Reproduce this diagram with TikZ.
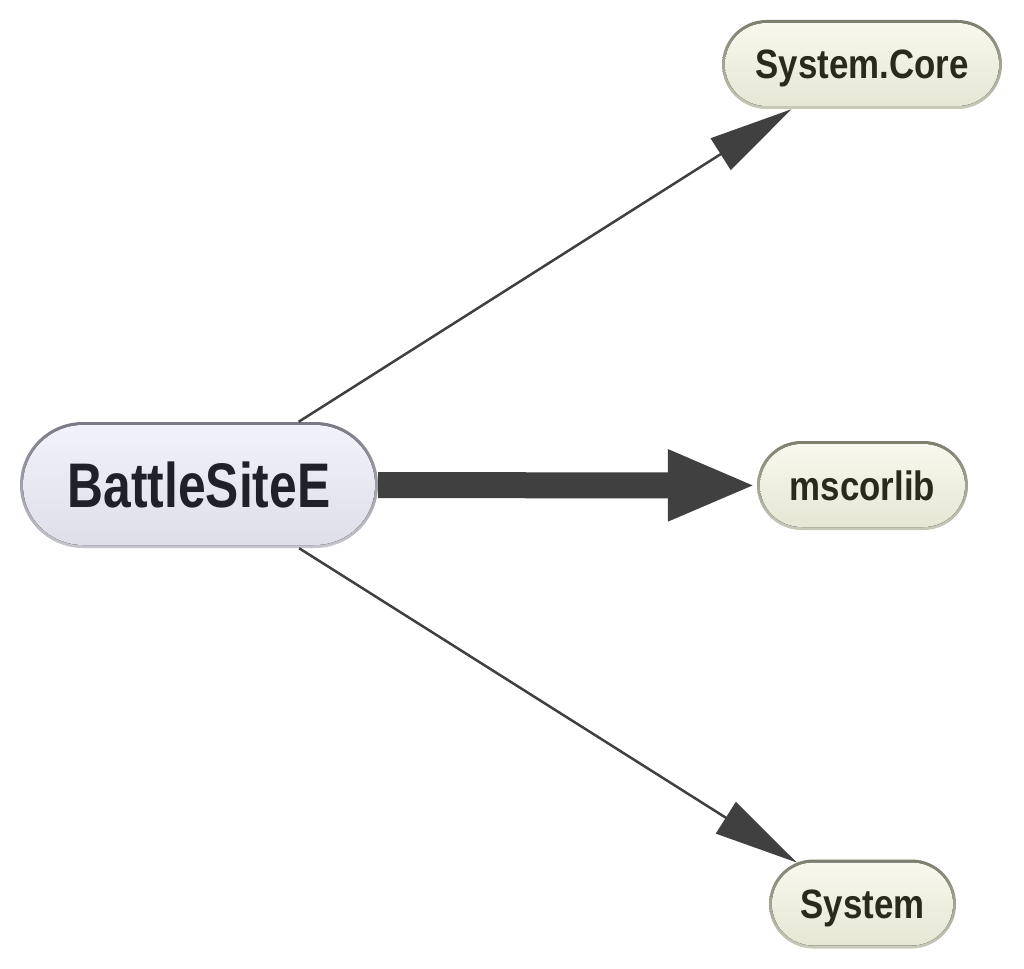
\documentclass[tikz,border=0pt]{standalone}
\usepackage{fontspec}
\setmainfont{Liberation Sans}
\newfontfamily\bigfont[FakeStretch=0.79]{Liberation Sans}
\newfontfamily\smallfont[FakeStretch=0.85]{Liberation Sans}
\usetikzlibrary{arrows.meta,shapes.misc,calc}
\definecolor{edgec}{HTML}{404040}
\definecolor{depTop}{HTML}{F8F8EE}
\definecolor{depBot}{HTML}{E6E6D4}
\definecolor{depBorderTop}{HTML}{7E7E6E}
\definecolor{depBorderBot}{HTML}{CACABA}
\definecolor{depText}{HTML}{2A2A1C}
\definecolor{mainTop}{HTML}{F2F2FA}
\definecolor{mainBot}{HTML}{DEDEE8}
\definecolor{mainBorderTop}{HTML}{7A7A86}
\definecolor{mainBorderBot}{HTML}{C6C6CE}
\definecolor{mainText}{HTML}{202028}
\begin{document}
\begin{tikzpicture}[x=1pt,y=-1pt,
  depnode/.style={rounded rectangle, inner sep=0pt, minimum height=89pt,
    top color=depBorderTop, bottom color=depBorderBot,
    path picture={\fill[top color=depTop, bottom color=depBot, rounded corners=41.5pt]
      ($(path picture bounding box.south west)+(3pt,3pt)$) rectangle
      ($(path picture bounding box.north east)+(-3pt,-3pt)$);},
    text=depText, text height=29pt, text depth=0pt,
    font=\smallfont\fontsize{41}{46}\selectfont\bfseries},
  mainnode/.style={rounded rectangle, inner sep=0pt, minimum height=126pt,
    minimum width=358pt, top color=mainBorderTop, bottom color=mainBorderBot,
    path picture={\fill[top color=mainTop, bottom color=mainBot, rounded corners=60pt]
      ($(path picture bounding box.south west)+(3pt,3pt)$) rectangle
      ($(path picture bounding box.north east)+(-3pt,-3pt)$);},
    text=mainText, text height=45pt, text depth=0pt,
    font=\bigfont\fontsize{63}{70}\selectfont\bfseries},
  thinedge/.style={draw=edgec, line width=2.5pt,
    -{Triangle[length=84pt,width=37pt]}, color=edgec},
  thickedge/.style={draw=edgec, line width=26pt,
    -{Triangle[length=89pt,width=65pt]}, color=edgec}]
\useasboundingbox (0,0) rectangle (1024,968);
\fill[white] (0,0) rectangle (1024,968);
\node[mainnode] (b) at (199,485) {BattleSiteE};
\node[depnode, minimum width=280pt] (sc) at (862,64.5) {System.Core};
\node[depnode, minimum width=211pt] (ms) at (862.5,485.5) {mscorlib};
\node[depnode, minimum width=187pt] (sy) at (862.5,904) {System};
\draw[thinedge] (b) -- (sc);
\draw[thickedge] (b) -- (ms);
\draw[thinedge] (b) -- (sy);
\end{tikzpicture}
\end{document}
